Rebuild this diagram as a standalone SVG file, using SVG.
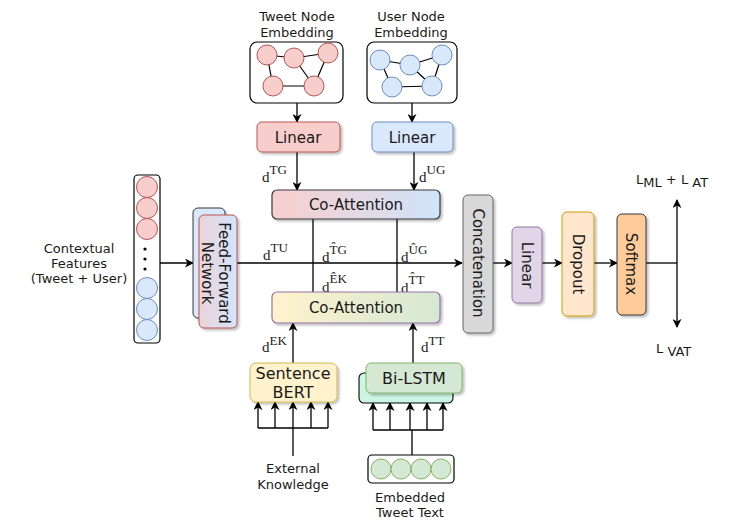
<svg xmlns="http://www.w3.org/2000/svg" width="748" height="529" viewBox="0 0 748 529">
<style>
.t{font-family:"DejaVu Sans",Verdana,sans-serif;fill:#1a1a1a;text-anchor:middle}
.s13{font-size:13px}
.s15{font-size:15px}
.m{font-family:"Liberation Serif","Times New Roman",serif;font-size:15px;fill:#1a1a1a}
.sup{font-size:13px}
.ln{stroke:#000;stroke-width:1.3;fill:none}
.arr{stroke:#000;stroke-width:1.3;fill:none;marker-end:url(#ah)}
.edge{stroke:#000;stroke-width:1.2}
.rc{fill:#f8cecc;stroke:#b85450;stroke-width:1}
.bc{fill:#dae8fc;stroke:#6c8ebf;stroke-width:1}
.gc{fill:#d5e8d4;stroke:#82b366;stroke-width:1}
.sh{filter:url(#shadow)}
</style>
<defs>
<marker id="ah" viewBox="0 0 10 10" refX="9" refY="5" markerWidth="9" markerHeight="9" markerUnits="userSpaceOnUse" orient="auto-start-reverse">
<path d="M0,0 L10,5 L0,10 L3,5 z" fill="#000"/>
</marker>
<filter id="shadow" x="-20%" y="-20%" width="150%" height="150%">
<feDropShadow dx="2" dy="2" stdDeviation="1" flood-color="#000" flood-opacity="0.25"/>
</filter>
<linearGradient id="gTop" x1="0" y1="0" x2="1" y2="0">
<stop offset="0" stop-color="#f8cecc"/><stop offset="1" stop-color="#cfe4fb"/>
</linearGradient>
<linearGradient id="gBot" x1="0" y1="0" x2="1" y2="0">
<stop offset="0" stop-color="#fff2cc"/><stop offset="1" stop-color="#d5e8d4"/>
</linearGradient>
<linearGradient id="gFfn" x1="0" y1="0" x2="1" y2="0">
<stop offset="0" stop-color="#ecd3d9"/><stop offset="1" stop-color="#d4e4fa"/>
</linearGradient>
</defs>

<g id="connectors">
<line class="arr" x1="297" y1="103" x2="297" y2="122"/>
<line class="arr" x1="412" y1="103" x2="412" y2="122"/>
<line class="arr" x1="297" y1="152" x2="297" y2="190"/>
<line class="arr" x1="414" y1="152" x2="414" y2="190"/>
<line class="ln" x1="313" y1="219" x2="313" y2="292"/>
<line class="ln" x1="397" y1="219" x2="397" y2="292"/>
<line class="arr" x1="160" y1="263" x2="193" y2="263"/>
<line class="arr" x1="237" y1="263" x2="462" y2="263"/>
<line class="arr" x1="493" y1="263" x2="512" y2="263"/>
<line class="arr" x1="542" y1="263" x2="562" y2="263"/>
<line class="arr" x1="594" y1="263" x2="617" y2="263"/>
<line class="ln" x1="646" y1="263" x2="677" y2="263"/>
<line class="ln" x1="677" y1="200" x2="677" y2="327" style="marker-start:url(#ah);marker-end:url(#ah)"/>
<line class="arr" x1="293" y1="363" x2="293" y2="323"/>
<line class="arr" x1="413" y1="363" x2="413" y2="323"/>
<line class="ln" x1="293" y1="456" x2="293" y2="428"/>
<line class="ln" x1="258" y1="428" x2="328" y2="428"/>
<line class="arr" x1="258" y1="428" x2="258" y2="402"/>
<line class="arr" x1="275" y1="428" x2="275" y2="402"/>
<line class="arr" x1="293" y1="428" x2="293" y2="402"/>
<line class="arr" x1="311" y1="428" x2="311" y2="402"/>
<line class="arr" x1="328" y1="428" x2="328" y2="402"/>
<line class="ln" x1="412" y1="455" x2="412" y2="430"/>
<line class="ln" x1="373" y1="430" x2="443" y2="430"/>
<line class="arr" x1="373" y1="430" x2="373" y2="403"/>
<line class="arr" x1="390" y1="430" x2="390" y2="403"/>
<line class="arr" x1="410" y1="430" x2="410" y2="403"/>
<line class="arr" x1="427" y1="430" x2="427" y2="403"/>
<line class="arr" x1="443" y1="430" x2="443" y2="403"/>
<text class="m" x="262" y="182">d<tspan class="sup" dy="-8">TG</tspan></text>
<text class="m" x="419" y="182">d<tspan class="sup" dy="-8">UG</tspan></text>
<text class="m" x="263" y="260">d<tspan class="sup" dy="-8">TU</tspan></text>
<text class="m" x="322" y="262">d<tspan class="sup" dy="-8">T&#x302;G</tspan></text>
<text class="m" x="401" y="262">d<tspan class="sup" dy="-8">U&#x302;G</tspan></text>
<text class="m" x="322" y="292">d<tspan class="sup" dy="-9">E&#x302;K</tspan></text>
<text class="m" x="401" y="293">d<tspan class="sup" dy="-9">T&#x302;T</tspan></text>
<text class="m" x="262" y="352">d<tspan class="sup" dy="-7">EK</tspan></text>
<text class="m" x="421" y="352">d<tspan class="sup" dy="-7">TT</tspan></text>
</g>

<g id="tweet-node-embedding">
<text class="t s13" x="297" y="21">Tweet Node</text>
<text class="t s13" x="297" y="37">Embedding</text>
<rect x="250" y="42" width="93" height="61" rx="7" fill="#fff" stroke="#000" stroke-width="1.2"/>
<line class="edge" x1="267" y1="55" x2="294" y2="58"/>
<line class="edge" x1="294" y1="58" x2="328" y2="53"/>
<line class="edge" x1="267" y1="55" x2="273" y2="86"/>
<line class="edge" x1="294" y1="58" x2="314" y2="86"/>
<line class="edge" x1="273" y1="86" x2="314" y2="86"/>
<line class="edge" x1="328" y1="53" x2="314" y2="86"/>
<circle class="rc" cx="267" cy="55" r="10"/>
<circle class="rc" cx="294" cy="58" r="10"/>
<circle class="rc" cx="328" cy="53" r="10"/>
<circle class="rc" cx="273" cy="86" r="10"/>
<circle class="rc" cx="314" cy="86" r="10"/>
</g>

<g id="user-node-embedding">
<text class="t s13" x="411" y="21">User Node</text>
<text class="t s13" x="411" y="37">Embedding</text>
<rect x="367" y="42" width="90" height="61" rx="7" fill="#fff" stroke="#000" stroke-width="1.2"/>
<line class="edge" x1="380" y1="60" x2="410" y2="65"/>
<line class="edge" x1="410" y1="65" x2="442" y2="55"/>
<line class="edge" x1="380" y1="60" x2="392" y2="87"/>
<line class="edge" x1="410" y1="65" x2="432" y2="86"/>
<line class="edge" x1="392" y1="87" x2="432" y2="86"/>
<line class="edge" x1="442" y1="55" x2="432" y2="86"/>
<circle class="bc" cx="380" cy="60" r="10"/>
<circle class="bc" cx="410" cy="65" r="10"/>
<circle class="bc" cx="442" cy="55" r="10"/>
<circle class="bc" cx="392" cy="87" r="10"/>
<circle class="bc" cx="432" cy="86" r="10"/>
</g>

<g id="linear-tweet">
<rect class="sh" x="257" y="122" width="83" height="30" rx="5" fill="#f8cecc" stroke="#b85450"/>
<text class="t s15" x="298" y="143">Linear</text>
</g>
<g id="linear-user">
<rect class="sh" x="372" y="122" width="81" height="30" rx="5" fill="#dae8fc" stroke="#6c8ebf"/>
<text class="t s15" x="412" y="143">Linear</text>
</g>

<g id="co-attention-top">
<rect class="sh" x="272" y="190" width="168" height="29" rx="5" fill="url(#gTop)" stroke="#36393d" stroke-width="1.2"/>
<text class="t s15" x="356" y="210">Co-Attention</text>
</g>

<g id="co-attention-bottom">
<rect class="sh" x="272" y="292" width="168" height="31" rx="5" fill="url(#gBot)" stroke="#9673a6" stroke-width="1.2"/>
<text class="t s15" x="356" y="313">Co-Attention</text>
</g>

<g id="contextual-features">
<text class="t s13" x="79" y="253">Contextual</text>
<text class="t s13" x="79" y="268">Features</text>
<text class="t s13" x="79" y="283">(Tweet + User)</text>
<rect x="134" y="175" width="26" height="168" rx="4" fill="#fff" stroke="#000" stroke-width="1.2"/>
<circle class="rc" cx="147" cy="187" r="10.5"/>
<circle class="rc" cx="147" cy="208" r="10.5"/>
<circle class="rc" cx="147" cy="229" r="10.5"/>
<circle cx="145" cy="249" r="1.6" fill="#000"/>
<circle cx="145" cy="259" r="1.6" fill="#000"/>
<circle cx="145" cy="269" r="1.6" fill="#000"/>
<circle class="bc" cx="147" cy="288" r="10.5"/>
<circle class="bc" cx="147" cy="309" r="10.5"/>
<circle class="bc" cx="147" cy="330" r="10.5"/>
</g>

<g id="feed-forward-network">
<rect class="sh" x="193" y="208" width="32" height="110" rx="5" fill="#dae8fc" stroke="#36393d"/>
<rect class="sh" x="199" y="215" width="38" height="113" rx="5" fill="url(#gFfn)" stroke="#b85450"/>
<g transform="translate(216,273) rotate(90)">
<text class="t s15" x="0" y="-2.5">Feed-Forward</text>
<text class="t s15" x="0" y="14.5">Network</text>
</g>
</g>

<g id="concatenation">
<rect class="sh" x="463" y="195" width="30" height="138" rx="5" fill="#d8d8d8" stroke="#666"/>
<text class="t s15" transform="translate(478,263) rotate(90)" x="0" y="5.5">Concatenation</text>
</g>

<g id="linear-final">
<rect class="sh" x="512" y="227" width="30" height="76" rx="5" fill="#e1d5e7" stroke="#9673a6"/>
<text class="t s15" transform="translate(527,265) rotate(90)" x="0" y="5.5">Linear</text>
</g>

<g id="dropout">
<rect class="sh" x="562" y="212" width="32" height="104" rx="5" fill="#ffe6cc" stroke="#d79b00"/>
<text class="t s15" transform="translate(578,264) rotate(90)" x="0" y="5.5">Dropout</text>
</g>

<g id="softmax">
<rect class="sh" x="617" y="214" width="29" height="101" rx="5" fill="#ffcc99" stroke="#36393d"/>
<text class="t s15" transform="translate(631.5,264) rotate(90)" x="0" y="5.5">Softmax</text>
</g>

<g id="loss-labels">
<text class="t s13" x="636" y="184" style="text-anchor:start">L<tspan dy="3">ML</tspan><tspan dy="-3"> + L </tspan><tspan dy="3">AT</tspan></text>
<text class="t s13" x="656" y="353" style="text-anchor:start">L<tspan dy="3"> VAT</tspan></text>
</g>

<g id="sentence-bert">
<rect class="sh" x="250" y="363" width="87" height="39" rx="6" fill="#fff2cc" stroke="#d6b656"/>
<text class="t" style="font-size:16px" x="293" y="378.5">Sentence</text>
<text class="t" style="font-size:16px" x="293" y="397.5">BERT</text>
</g>

<g id="external-knowledge">
<text class="t s13" x="293" y="473">External</text>
<text class="t s13" x="293" y="489">Knowledge</text>
</g>

<g id="bi-lstm">
<rect x="359" y="373" width="94" height="30" rx="5" fill="#ccf5e4" stroke="#000" stroke-width="1.1"/>
<rect class="sh" x="366" y="363" width="96" height="30" rx="5" fill="#d5e8d4" stroke="#82b366"/>
<text class="t" style="font-size:16px" x="414" y="384">Bi-LSTM</text>
</g>

<g id="embedded-tweet-text">
<rect x="368" y="455" width="86" height="28" rx="4" fill="#fff" stroke="#000" stroke-width="1.2"/>
<circle class="gc" cx="381" cy="469" r="10"/>
<circle class="gc" cx="401" cy="469" r="10"/>
<circle class="gc" cx="421" cy="469" r="10"/>
<circle class="gc" cx="441" cy="469" r="10"/>
<text class="t s13" x="410" y="502">Embedded</text>
<text class="t s13" x="410" y="517">Tweet Text</text>
</g>
</svg>
